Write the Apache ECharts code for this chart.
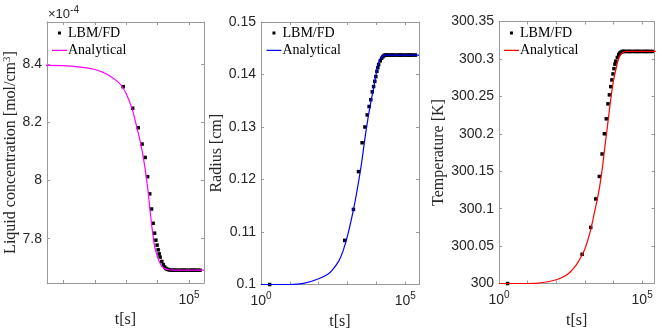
<!DOCTYPE html>
<html>
<head>
<meta charset="utf-8">
<script src="https://cdn.jsdelivr.net/npm/echarts@6/dist/echarts.min.js"></script>
<style>
html, body { margin: 0; padding: 0; background: #fff; }
#main { width: 664px; height: 333px; }
</style>
</head>
<body>
<div id="main"></div>
<script>
// LBM/FD sample times [s] and values
var tMarker = [2, 800, 1600, 2400, 3200, 4000, 4800, 5600, 6400, 7200,
    8000, 8800, 9600, 10400, 11200, 12000, 13600, 15200, 16800, 18400,
    20000, 22000, 24000, 28000, 32000, 36000, 40000, 48000, 56000, 64000,
    72000, 80000, 96000, 112000, 128000, 144000, 160000, 192000, 224000];
var concMarker = [8.395, 8.322, 8.248, 8.181, 8.125, 8.079, 8.013, 7.954, 7.902, 7.853,
    7.819, 7.795, 7.778, 7.762, 7.748, 7.737, 7.722, 7.711, 7.703, 7.698,
    7.695, 7.694, 7.693, 7.692, 7.692, 7.692, 7.692, 7.692, 7.692, 7.692,
    7.692, 7.692, 7.692, 7.692, 7.692, 7.692, 7.692, 7.692, 7.692];
var radMarker = [0.1000, 0.1084, 0.1143, 0.1215, 0.1270, 0.1300, 0.1323, 0.1339, 0.1352, 0.1367,
    0.1377, 0.1387, 0.1396, 0.1406, 0.1413, 0.1419, 0.1426, 0.1431, 0.1434, 0.1436,
    0.1437, 0.1437, 0.1437, 0.1437, 0.1437, 0.1437, 0.1437, 0.1437, 0.1437, 0.1437,
    0.1437, 0.1437, 0.1437, 0.1437, 0.1437, 0.1437, 0.1437, 0.1437, 0.1437];
var tempMarker = [300.000, 300.039, 300.075, 300.113, 300.143, 300.173, 300.200, 300.220, 300.240, 300.252,
    300.263, 300.272, 300.280, 300.287, 300.293, 300.297, 300.302, 300.306, 300.308, 300.309,
    300.310, 300.310, 300.310, 300.310, 300.310, 300.310, 300.310, 300.310, 300.310, 300.310,
    300.310, 300.310, 300.310, 300.310, 300.310, 300.310, 300.310, 300.310, 300.310];

// analytical solution, read at these times [s]
var tCurve = [1, 3, 10, 30, 100, 200, 300, 500, 700, 1000,
    1500, 2000, 3000, 4000, 5000, 6000, 8000, 10000, 13000, 16000,
    20000, 30000, 50000, 100000, 300000];
var concCurve = [8.395, 8.395, 8.394, 8.390, 8.381, 8.369, 8.359, 8.342, 8.326, 8.298,
    8.250, 8.199, 8.118, 8.040, 7.960, 7.878, 7.775, 7.737, 7.708, 7.699,
    7.695, 7.692, 7.692, 7.692, 7.692];
var radCurve = [0.1000, 0.1000, 0.1000, 0.1002, 0.1011, 0.1019, 0.1028, 0.1045, 0.1064, 0.1093,
    0.1135, 0.1170, 0.1228, 0.1278, 0.1313, 0.1339, 0.1374, 0.1403, 0.1428, 0.1434,
    0.1437, 0.1437, 0.1437, 0.1437, 0.1437];
var tempCurve = [300.000, 300.000, 300.000, 300.001, 300.005, 300.010, 300.015, 300.025, 300.034, 300.046,
    300.068, 300.089, 300.121, 300.152, 300.183, 300.207, 300.246, 300.271, 300.291, 300.303,
    300.308, 300.310, 300.310, 300.310, 300.310];

// decades that get a tick label
var labelExps1 = [5];
var labelExps2 = [0, 5];
var labelExps3 = [0, 5];

var chartDom = document.getElementById('main');
var myChart = echarts.init(chartDom);
var option;

var frameColor = '#9a9a9a';
var textColor = '#262626';
var serif = 'Liberation Serif';
var sans = 'Liberation Sans';
// legend icons drawn inside a 15x14 box
var squareIcon = 'path://M0,0L0.1,0M15,14L15.1,14M6,5.5L9,5.5L9,8.5L6,8.5Z';
var dashIcon = 'path://M0,0L0.1,0M15,14L15.1,14M0,6.4L15,6.4L15,7.6L0,7.6Z';

function pairs(xs, ys) {
    return xs.map(function (x, i) { return [x, ys[i]]; });
}

function decadeLabel(exps) {
    return function (v) {
        var lg = Math.log10(v);
        var e = Math.round(lg);
        if (Math.abs(lg - e) > 1e-6 || exps.indexOf(e) < 0) {
            return '';
        }
        return '{b|10}{s|' + e + '}';
    };
}

var tickRich = {
    b: { fontFamily: sans, fontSize: 14, color: textColor },
    s: { fontFamily: sans, fontSize: 10, color: textColor, padding: [0, 0, 10, 0] }
};

function xAxes(gridIndex, min, max, exps) {
    return [
        {
            type: 'log', gridIndex: gridIndex, min: min, max: max,
            name: 't[s]', nameLocation: 'middle', nameGap: 28,
            nameTextStyle: { fontFamily: serif, fontSize: 16, color: textColor },
            axisLine: { lineStyle: { color: frameColor } },
            axisTick: { inside: true, length: 3, lineStyle: { color: frameColor } },
            axisLabel: { formatter: decadeLabel(exps), margin: 7, rich: tickRich },
            splitLine: { show: false }
        },
        {
            type: 'log', gridIndex: gridIndex, min: min, max: max, position: 'top',
            axisLine: { lineStyle: { color: frameColor } },
            axisTick: { inside: true, length: 3, lineStyle: { color: frameColor } },
            axisLabel: { show: false },
            splitLine: { show: false }
        }
    ];
}

function yAxes(gridIndex, min, max, interval, name, gap) {
    var left = {
        type: 'value', gridIndex: gridIndex, min: min, max: max,
        name: name, nameLocation: 'middle', nameGap: gap,
        nameTextStyle: {
            fontFamily: serif, fontSize: 16, color: textColor,
            rich: { s: { fontFamily: serif, fontSize: 11, color: textColor, padding: [0, 0, 8, 0] } }
        },
        axisLine: { show: true, lineStyle: { color: frameColor } },
        axisTick: { show: true, inside: true, length: 3, lineStyle: { color: frameColor } },
        axisLabel: {
            fontFamily: sans, fontSize: 14, color: textColor, margin: 5,
            showMinLabel: interval != null, showMaxLabel: interval != null
        },
        splitLine: { show: false }
    };
    var right = {
        type: 'value', gridIndex: gridIndex, min: min, max: max, position: 'right',
        axisLine: { show: true, lineStyle: { color: frameColor } },
        axisTick: { show: true, inside: true, length: 3, lineStyle: { color: frameColor } },
        axisLabel: { show: false },
        splitLine: { show: false }
    };
    if (interval != null) {
        left.interval = interval;
        right.interval = interval;
    }
    return [left, right];
}

function panelSeries(k, yMarker, yCurve, color) {
    return [
        {
            name: 'LBM/FD#' + k, type: 'scatter',
            xAxisIndex: 2 * (k - 1), yAxisIndex: 2 * (k - 1),
            symbol: 'rect', symbolSize: 3.5,
            itemStyle: { color: '#000', opacity: 1 },
            data: pairs(tMarker, yMarker)
        },
        {
            name: 'Analytical#' + k, type: 'line',
            xAxisIndex: 2 * (k - 1), yAxisIndex: 2 * (k - 1),
            symbol: 'none', smooth: 0.4,
            lineStyle: { color: color, width: 1.2 },
            itemStyle: { color: color },
            data: pairs(tCurve, yCurve)
        }
    ];
}

function legendAt(k, left) {
    return {
        orient: 'vertical', left: left, top: 26, padding: 0,
        itemWidth: 15, itemHeight: 14, itemGap: 3.4,
        selectedMode: false,
        data: [
            { name: 'LBM/FD#' + k, icon: squareIcon },
            { name: 'Analytical#' + k, icon: dashIcon }
        ],
        formatter: function (name) { return name.split('#')[0]; },
        textStyle: { fontFamily: serif, fontSize: 14, color: '#000', padding: [0, 0, 0, -4] }
    };
}

option = {
    animation: false,
    backgroundColor: '#fff',
    grid: [
        { left: 47, top: 22, width: 157, height: 261, outerBoundsMode: 'none' },
        { left: 261, top: 22, width: 158, height: 262.5, outerBoundsMode: 'none' },
        { left: 499, top: 21.5, width: 155.5, height: 262, outerBoundsMode: 'none' }
    ],
    legend: [legendAt(1, 52), legendAt(2, 266.5), legendAt(3, 504)],
    xAxis: [].concat(
        xAxes(0, 3, 300000, labelExps1),
        xAxes(1, 1, 300000, labelExps2),
        xAxes(2, 1, 270000, labelExps3)
    ),
    yAxis: [].concat(
        yAxes(0, 7.648, 8.544, null, 'Liquid concentration [mol/cm{s|3}]', 25),
        yAxes(1, 0.1, 0.15, 0.01, 'Radius [cm]', 31),
        yAxes(2, 300, 300.35, 0.05, 'Temperature [K]', 50)
    ),
    graphic: [
        {
            type: 'text', left: 48, top: 5,
            style: {
                text: '{a|×10}{s|-4}',
                rich: {
                    a: { fontFamily: sans, fontSize: 13, fill: textColor },
                    s: { fontFamily: sans, fontSize: 10, fill: textColor, padding: [0, 0, 8, 0] }
                }
            }
        }
    ],
    series: [].concat(
        panelSeries(1, concMarker, concCurve, '#ff00ff'),
        panelSeries(2, radMarker, radCurve, '#0000ff'),
        panelSeries(3, tempMarker, tempCurve, '#ff0000')
    )
};

option && myChart.setOption(option);
</script>
</body>
</html>
